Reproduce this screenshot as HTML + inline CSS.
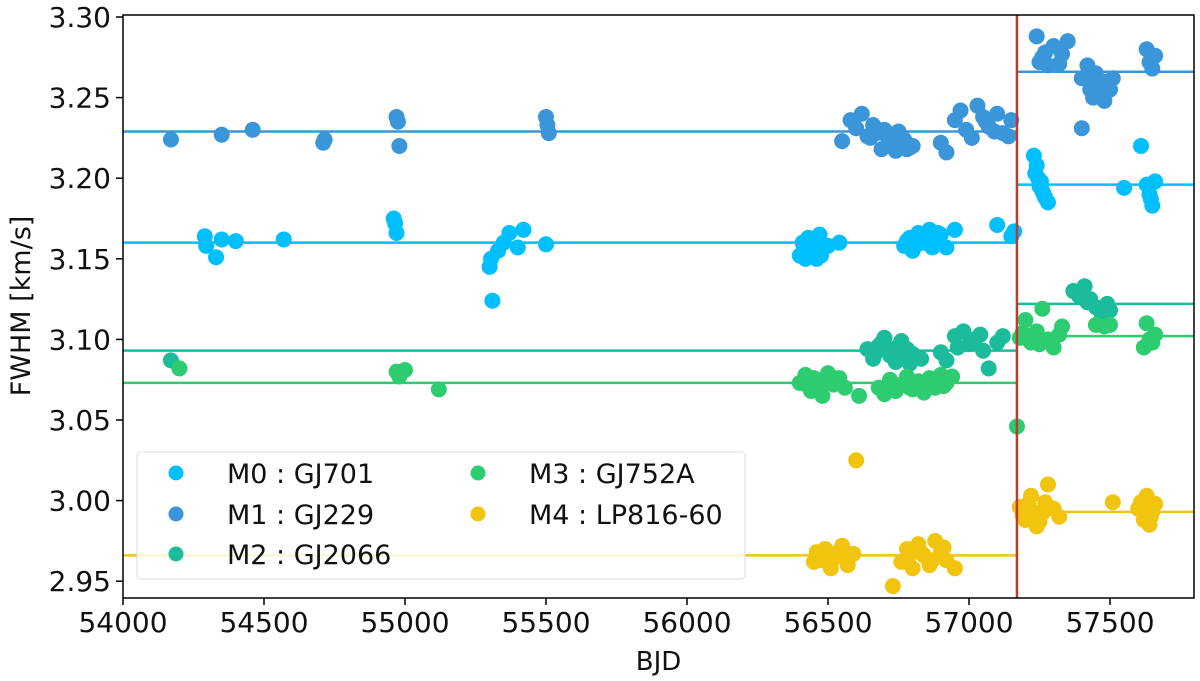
<!DOCTYPE html>
<html><head><meta charset="utf-8"><style>
body{margin:0;background:#fff;}
svg{display:block;font-family:"DejaVu Sans","Liberation Sans",sans-serif;}
</style></head><body>
<svg id="chart" width="1200" height="681">
<g id="plot"></g>
<g id="axes"></g>
</svg>
<script>
const xTicks=[54000,54500,55000,55500,56000,56500,57000,57500];
const yTicks=[2.95,3.00,3.05,3.10,3.15,3.20,3.25,3.30];
const splitBJD=57170;
const names=["M0 : GJ701","M1 : GJ229","M2 : GJ2066","M3 : GJ752A","M4 : LP816-60"];
const colors=["#00bfff","#3a96d9","#1abc9c","#2ecc71","#f1c40f"];
const meanBefore=[3.160,3.229,3.093,3.073,2.966];
const meanAfter=[3.196,3.266,3.122,3.102,2.993];
const m0x=[54290,54295,54330,54350,54400,54570,54960,54965,54970,55300,55305,55310,55330,55350,55370,55400,55420,55500,56400,56410,56420,56430,56440,56450,56460,56470,56480,56500,56415,56435,56455,56475,56540,56770,56790,56800,56820,56840,56860,56880,56900,56920,56950,56780,56810,56830,56850,56870,56890,57100,57150,57160,57230,57240,57245,57250,57260,57270,57280,57235,57255,57265,57550,57610,57630,57640,57650,57660,57645];
const m0y=[3.164,3.158,3.151,3.162,3.161,3.162,3.175,3.172,3.166,3.145,3.150,3.124,3.155,3.160,3.166,3.157,3.168,3.159,3.152,3.160,3.150,3.163,3.155,3.158,3.150,3.165,3.156,3.158,3.156,3.153,3.162,3.152,3.160,3.158,3.163,3.155,3.166,3.160,3.168,3.162,3.165,3.157,3.168,3.161,3.158,3.164,3.162,3.157,3.166,3.171,3.164,3.167,3.214,3.208,3.200,3.195,3.192,3.188,3.185,3.203,3.198,3.190,3.194,3.220,3.196,3.190,3.183,3.198,3.187];
const m1x=[54170,54350,54460,54710,54715,54970,54975,54980,55500,55505,55510,56550,56580,56600,56620,56640,56660,56670,56690,56700,56720,56740,56750,56760,56780,56800,56650,56680,56710,56730,56770,56790,56900,56920,56950,56970,56990,57010,57030,57050,57070,57100,57120,57150,57060,57090,57140,57240,57260,57280,57300,57330,57350,57250,57270,57320,57400,57420,57430,57440,57450,57470,57480,57500,57510,57435,57460,57490,57400,57630,57640,57650,57660];
const m1y=[3.224,3.227,3.230,3.222,3.224,3.238,3.235,3.220,3.238,3.233,3.228,3.223,3.236,3.231,3.240,3.226,3.233,3.228,3.218,3.230,3.223,3.217,3.229,3.222,3.218,3.220,3.225,3.230,3.226,3.221,3.224,3.219,3.222,3.216,3.236,3.242,3.230,3.225,3.245,3.238,3.232,3.240,3.228,3.236,3.235,3.229,3.226,3.288,3.275,3.270,3.282,3.277,3.285,3.272,3.278,3.271,3.262,3.270,3.255,3.250,3.265,3.258,3.248,3.255,3.262,3.258,3.252,3.260,3.231,3.280,3.272,3.268,3.276];
const m2x=[54170,56640,56660,56680,56700,56720,56740,56760,56780,56800,56830,56670,56690,56710,56730,56750,56770,56790,56900,56920,56950,56980,57000,57020,57050,57070,57100,57120,56960,57040,57370,57390,57410,57430,57450,57470,57490,57500,57420,57460];
const m2y=[3.087,3.094,3.088,3.096,3.101,3.090,3.086,3.099,3.094,3.091,3.088,3.092,3.098,3.094,3.089,3.096,3.092,3.085,3.092,3.087,3.102,3.105,3.097,3.100,3.093,3.082,3.098,3.102,3.095,3.103,3.130,3.127,3.133,3.125,3.120,3.116,3.122,3.118,3.123,3.119];
const m3x=[54200,54970,54980,55000,55120,56400,56420,56440,56460,56480,56500,56520,56540,56560,56430,56450,56470,56490,56510,56610,56680,56700,56720,56740,56760,56780,56800,56820,56840,56860,56880,56900,56920,56940,56730,56790,56850,56910,57170,57180,57200,57220,57240,57260,57280,57300,57320,57330,57190,57210,57250,57450,57480,57500,57620,57630,57640,57650,57660];
const m3y=[3.082,3.080,3.077,3.081,3.069,3.073,3.078,3.068,3.075,3.065,3.079,3.072,3.076,3.070,3.071,3.076,3.069,3.074,3.077,3.065,3.070,3.066,3.075,3.068,3.072,3.077,3.069,3.074,3.067,3.076,3.070,3.078,3.073,3.077,3.072,3.070,3.072,3.071,3.046,3.101,3.112,3.098,3.105,3.119,3.100,3.095,3.103,3.108,3.104,3.100,3.097,3.109,3.108,3.109,3.095,3.110,3.100,3.098,3.103];
const m4x=[56450,56470,56490,56510,56530,56550,56570,56590,56600,56460,56480,56520,56560,56730,56760,56780,56800,56820,56840,56860,56880,56900,56920,56950,56790,56830,56870,56910,57180,57200,57220,57240,57260,57280,57300,57320,57190,57210,57230,57250,57270,57510,57600,57620,57630,57640,57650,57660,57610,57645];
const m4y=[2.962,2.966,2.970,2.958,2.965,2.972,2.960,2.967,3.025,2.968,2.963,2.967,2.965,2.947,2.962,2.970,2.958,2.973,2.966,2.960,2.975,2.968,2.963,2.958,2.966,2.968,2.963,2.971,2.996,2.988,3.003,2.984,2.992,3.010,2.995,2.990,2.991,2.998,2.993,2.987,2.999,2.999,2.995,2.988,3.003,2.985,2.993,2.998,2.999,2.990];
const seriesX=[m0x,m1x,m2x,m3x,m4x];
const seriesY=[m0y,m1y,m2y,m3y,m4y];

const L=123,R=1194,T=15,B=598;
const X=v=>123+(v-54000)/500*141;
const Y=v=>17+(3.30-v)/0.05*80.6;
const NS="http://www.w3.org/2000/svg";
function mk(tag,attrs,parent){const e=document.createElementNS(NS,tag);for(const k in attrs)e.setAttribute(k,attrs[k]);parent.appendChild(e);return e;}
const plot=document.getElementById('plot'),axes=document.getElementById('axes');
const xs=X(splitBJD);
for(let i=0;i<5;i++){
  const l1=mk('line',{x1:L,x2:xs,y1:Y(meanBefore[i]),y2:Y(meanBefore[i]),stroke:colors[i],'stroke-width':2.5},plot);
  
  
  const l2=mk('line',{x1:xs,x2:R,y1:Y(meanAfter[i]),y2:Y(meanAfter[i]),stroke:colors[i],'stroke-width':2.5},plot);
  
  
}
for(let i=0;i<5;i++){
  const g=mk('g',{},plot);
  
  
  for(let j=0;j<seriesX[i].length;j++){
    const c=mk('circle',{cx:X(seriesX[i][j]),cy:Y(seriesY[i][j]),r:8,fill:colors[i]},g);
    
    
  }
}
const red=mk('line',{x1:xs,x2:xs,y1:T,y2:B,stroke:'#c0392b','stroke-width':2.5},plot);


const lg=mk('g',{},plot);


mk('rect',{x:137,y:452,width:608,height:127,rx:4,fill:'rgba(255,255,255,0.82)',stroke:'#ddd'},lg);
const lpos=[[176,473],[176,514],[176,554],[478,473],[478,514]];
for(let i=0;i<5;i++){
  const e=mk('g',{},lg);
  
  
  mk('circle',{cx:lpos[i][0],cy:lpos[i][1],r:7.5,fill:colors[i]},e);
  const t=mk('text',{x:lpos[i][0]+51,y:lpos[i][1]+10,'font-size':27,fill:'#111'},e);
  t.textContent=names[i];
}
const fr=mk('rect',{x:L,y:T,width:R-L,height:B-T,fill:'none',stroke:'#000','stroke-width':1.5},axes);


for(const v of xTicks){
  const x=X(v);
  mk('line',{x1:x,x2:x,y1:B,y2:B+7,stroke:'#000','stroke-width':1.5},axes);
  const t=mk('text',{x:x,y:632,'font-size':28,'text-anchor':'middle',fill:'#111'},axes);
  t.textContent=v;
  
  
}
for(const v of yTicks){
  const y=Y(v);
  mk('line',{x1:L-7,x2:L,y1:y,y2:y,stroke:'#000','stroke-width':1.5},axes);
  const t=mk('text',{x:L-12,y:y+10,'font-size':28,'text-anchor':'end',fill:'#111'},axes);
  t.textContent=v.toFixed(2);
  
  
}
const xt=mk('text',{x:(L+R)/2,y:670,'font-size':26,'text-anchor':'middle',fill:'#111'},axes);
xt.textContent='BJD';


const yt=mk('text',{x:0,y:0,'font-size':27,'text-anchor':'middle',fill:'#111',transform:'translate(30,306) rotate(-90)'},axes);
yt.textContent='FWHM [km/s]';


</script>
</body></html>
